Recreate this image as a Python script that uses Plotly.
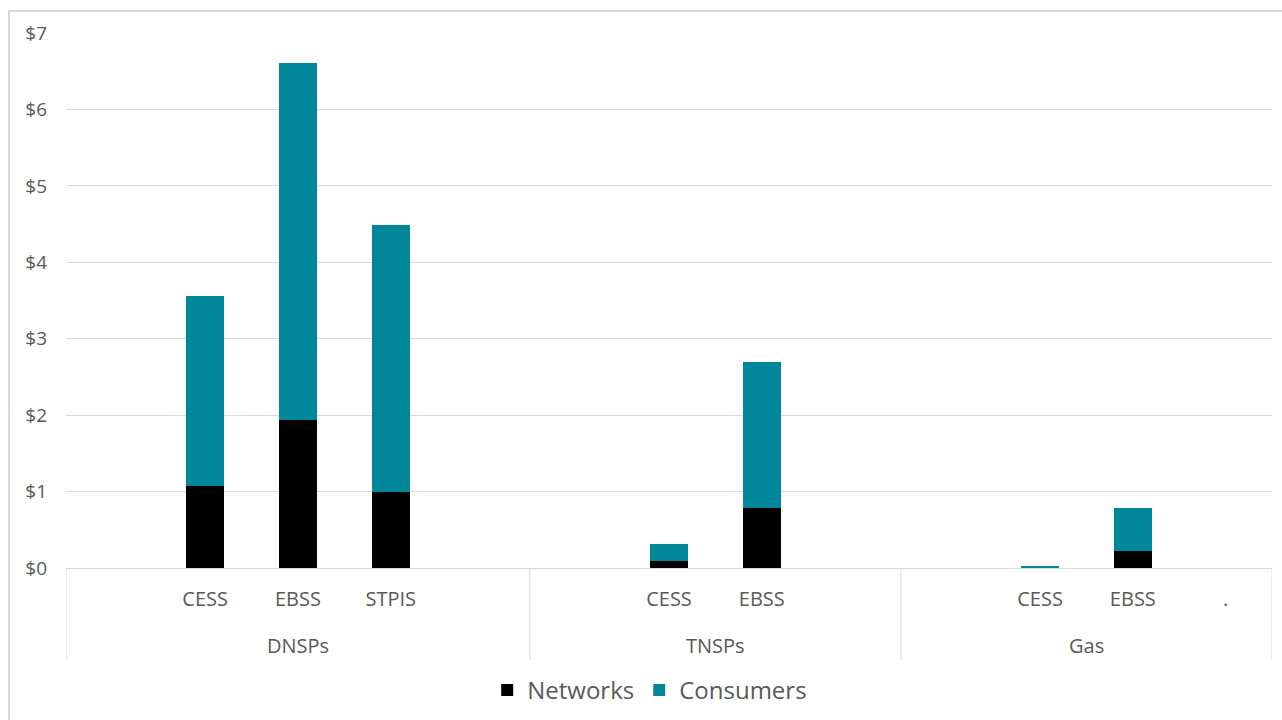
import plotly.graph_objects as go

group_names = ["DNSPs", "TNSPs", "Gas"]
group_sizes = [5, 4, 4]
categories = [" ", "CESS", "EBSS", "STPIS", "  ",
              " ", "CESS", "EBSS", "  ",
              " ", "CESS", "EBSS", "."]
networks = [None, 1.07, 1.94, 1.00, None,
            None, 0.09, 0.79, None,
            None, 0.0, 0.22, None]
consumers = [None, 2.49, 4.67, 3.49, None,
             None, 0.23, 1.91, None,
             None, 0.03, 0.56, None]

FONT = "Open Sans"
GRID = "#d9d9d9"
TXT = "#595959"

xpos = list(range(len(categories)))

fig = go.Figure()
fig.add_trace(go.Bar(x=xpos, y=networks, name="Networks",
                     marker=dict(color="#000000", line=dict(width=0))))
fig.add_trace(go.Bar(x=xpos, y=consumers, name="Consumers",
                     marker=dict(color="#00889A", line=dict(width=0))))

# group labels and dividers derived from group sizes
annotations = []
shapes = []
start = 0
bounds = [-0.5]
for name, size in zip(group_names, group_sizes):
    center = start + (size - 1) / 2
    annotations.append(dict(x=center, xref="x", y=-(645 - 568) / 535, yref="paper",
                            text=name, showarrow=False, yanchor="middle",
                            font=dict(size=20, color=TXT, family=FONT)))
    start += size
    bounds.append(start - 0.5)
for b in bounds:
    shapes.append(dict(type="line", xref="x", yref="paper", x0=b, x1=b,
                       y0=0, y1=-(660 - 568) / 535,
                       line=dict(color=GRID, width=1)))

shapes.append(dict(type="rect", xref="paper", yref="paper",
                   x0=(9 - 66) / 1206, x1=(1295 - 66) / 1206,
                   y0=(568 - 740) / 535, y1=(568 - 11) / 535,
                   line=dict(color=GRID, width=2), fillcolor="rgba(0,0,0,0)",
                   layer="below"))

fig.update_layout(
    barmode="stack",
    bargap=0.59,
    width=1282, height=720,
    margin=dict(l=66, r=10, t=33, b=152, autoexpand=False),
    plot_bgcolor="white", paper_bgcolor="white",
    font=dict(family=FONT, color=TXT, size=18),
    legend=dict(orientation="h", x=0.484, xanchor="center", y=-0.229, yanchor="middle",
                font=dict(size=24, color=TXT), itemwidth=30, traceorder="normal"),
    xaxis=dict(range=[-0.5, len(categories) - 0.5], tickvals=xpos, ticktext=categories,
               showgrid=False, zeroline=False, showline=True, linecolor=GRID, linewidth=1,
               tickfont=dict(size=20, color=TXT), ticks="outside", ticklen=13,
               tickcolor="rgba(0,0,0,0)", automargin=False, fixedrange=True),
    yaxis=dict(range=[0, 7], dtick=1, tickprefix="$", showgrid=True, gridcolor=GRID,
               gridwidth=1, zeroline=False, showline=False, automargin=False,
               tickfont=dict(size=19, color=TXT), ticklabelstandoff=18),
    annotations=annotations,
    shapes=shapes,
)

fig.write_html("out.html")
